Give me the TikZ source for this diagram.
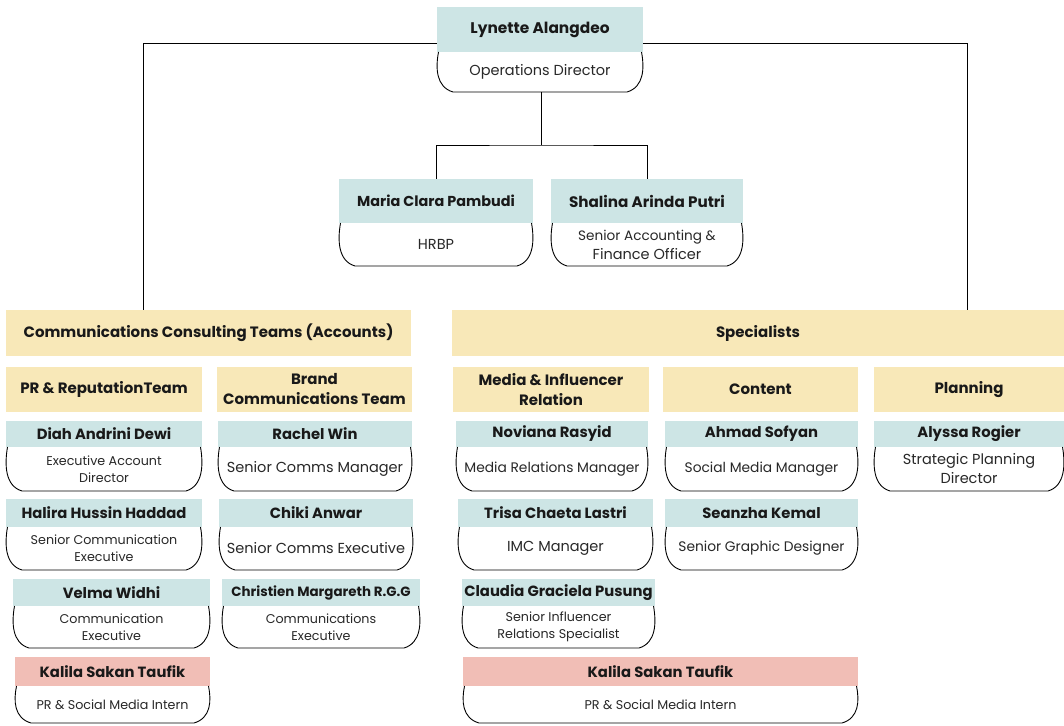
\documentclass[tikz,border=0pt]{standalone}
\usepackage{fontspec}
\setmainfont{Poppins}
\definecolor{hdrteal}{RGB}{205,229,229}
\definecolor{hdryel}{RGB}{248,232,184}
\definecolor{hdrpink}{RGB}{241,190,182}
\definecolor{txtdark}{RGB}{25,25,25}
\definecolor{txtmid}{RGB}{40,40,40}
\tikzset{
  hb/.style={inner sep=0pt, align=center, text=txtdark, font=\bfseries\fontsize{14.8}{17}\selectfont},
  tealhb/.style={hb, fill=hdrteal},
  yelhb/.style={hb, fill=hdryel, font=\bfseries\fontsize{15}{20}\selectfont},
  pinkhb/.style={hb, fill=hdrpink},
  bline/.style={draw=black, line width=0.9pt},
  btext/.style={inner sep=0pt, align=center, text=txtmid, font=\fontsize{14.5}{19}\selectfont},
  mbtext/.style={btext, font=\fontsize{13.8}{19}\selectfont},
  sbtext/.style={btext, font=\fontsize{12.7}{17}\selectfont},
  conn/.style={draw=black, line width=0.9pt},
}
% header box: name x0 x1 y0 y1 style text
\newcommand\hbx[7]{\node[#6, minimum width={#3pt-#2pt}, minimum height={#5pt-#4pt}] (#1) at ({(#2+#3)/2},{(#4+#5)/2}) {#7};}
% card body: name x0 x1 ytop ybot style text
\newcommand\cbody[7]{%
  \draw[bline] (#2+1.5,#4) .. controls (#2-1.5,{#4+(#5-#4)*0.4}) and (#2-1,#5-5) .. (#2+16,#5) -- (#3-16,#5) .. controls (#3+1,#5-5) and (#3+1.5,{#4+(#5-#4)*0.4}) .. (#3-1.5,#4);
  \node[#6] (#1) at ({(#2+#3)/2},{(#4+#5)/2}) {#7};}
\begin{document}
\begin{tikzpicture}[x=1pt,y=-1pt]
\useasboundingbox[fill=white] (0,0) rectangle (1064,725);
% top
\hbx{lyn}{437}{643}{7}{52}{tealhb}{\fontsize{15.4}{18}\selectfont Lynette Alangdeo}
\cbody{lynt}{437}{643}{52}{92}{btext}{Operations Director}
\hbx{maria}{339}{533}{179}{223}{tealhb}{\fontsize{14.4}{18}\selectfont Maria Clara Pambudi}
\cbody{mariat}{339}{533}{223}{266}{btext}{HRBP}
\hbx{shal}{551}{743}{179}{223}{tealhb}{\fontsize{15.2}{18}\selectfont Shalina Arinda Putri}
\cbody{shalt}{551}{743}{223}{266}{btext}{\fontsize{13.6}{19}\selectfont Senior Accounting \&\\ Finance Officer}
% groups
\hbx{comm}{6}{411}{310}{356}{yelhb}{Communications Consulting Teams (Accounts)}
\hbx{spec}{452}{1064}{310}{356}{yelhb}{Specialists}
\hbx{prt}{6}{202}{367}{412}{yelhb}{PR \& ReputationTeam}
\hbx{brand}{217}{412}{367}{412}{yelhb}{Brand\\Communications Team}
\hbx{media}{453}{649}{367}{412}{yelhb}{Media \& Influencer\\Relation}
\hbx{content}{663}{858}{367}{412}{yelhb}{Content}
\hbx{plan}{874}{1064}{367}{412}{yelhb}{Planning}
% row 1
\hbx{diah}{6}{202}{421}{447}{tealhb}{Diah Andrini Dewi}
\cbody{diaht}{6}{202}{447}{491}{sbtext}{Executive Account\\Director}
\hbx{rachel}{218}{412}{421}{447}{tealhb}{Rachel Win}
\cbody{rachelt}{218}{412}{447}{491}{btext}{Senior Comms Manager}
\hbx{novi}{456}{648}{421}{447}{tealhb}{Noviana Rasyid}
\cbody{novit}{456}{648}{447}{491}{mbtext}{Media Relations Manager}
\hbx{ahmad}{665}{858}{421}{447}{tealhb}{Ahmad Sofyan}
\cbody{ahmadt}{665}{858}{447}{491}{mbtext}{Social Media Manager}
\hbx{alyssa}{874}{1064}{421}{447}{tealhb}{Alyssa Rogier}
\cbody{alyssat}{874}{1064}{447}{491}{btext}{Strategic Planning\\Director}
% row 2
\hbx{halira}{6}{202}{499}{527}{tealhb}{Halira Hussin Haddad}
\cbody{halirat}{6}{202}{527}{570}{sbtext}{Senior Communication\\Executive}
\hbx{chiki}{219}{413}{499}{527}{tealhb}{Chiki Anwar}
\cbody{chikit}{219}{413}{527}{570}{btext}{Senior Comms Executive}
\hbx{trisa}{458}{653}{499}{527}{tealhb}{Trisa Chaeta Lastri}
\cbody{trisat}{458}{653}{527}{570}{btext}{IMC Manager}
\hbx{seanzha}{665}{858}{499}{527}{tealhb}{Seanzha Kemal}
\cbody{seanzhat}{665}{858}{527}{570}{mbtext}{Senior Graphic Designer}
% row 3
\hbx{velma}{13}{210}{579}{606}{tealhb}{Velma Widhi}
\cbody{velmat}{13}{210}{606}{648}{sbtext}{Communication\\Executive}
\hbx{christ}{222}{420}{579}{606}{tealhb}{\fontsize{13.4}{16}\selectfont Christien Margareth R.G.G}
\cbody{christt}{222}{420}{606}{648}{sbtext}{Communications\\Executive}
\hbx{claudia}{462}{655}{579}{606}{tealhb}{Claudia Graciela Pusung}
\cbody{claudiat}{462}{655}{606}{648}{sbtext}{Senior Influencer\\Relations Specialist}
% row 4
\hbx{kalilaL}{15}{210}{657}{686}{pinkhb}{Kalila Sakan Taufik}
\cbody{kalilaLt}{15}{210}{686}{723}{sbtext}{PR \& Social Media Intern}
\hbx{kalilaR}{463}{858}{657}{686}{pinkhb}{Kalila Sakan Taufik}
\cbody{kalilaRt}{463}{858}{686}{723}{sbtext}{PR \& Social Media Intern}
% connectors
\coordinate (lt) at (143,43);
\coordinate (rt) at (967,43);
\coordinate (lynb) at (541,92);
\coordinate (mid) at (541,145);
\draw[conn] (lyn.west |- lt) -- (lt) -- (lt |- comm.north);
\draw[conn] (lyn.east |- rt) -- (rt) -- (rt |- spec.north);
\draw[conn] (lynb) -- (mid);
\draw[conn] (maria.north) |- (mid) -| (shal.north);
\end{tikzpicture}
\end{document}
